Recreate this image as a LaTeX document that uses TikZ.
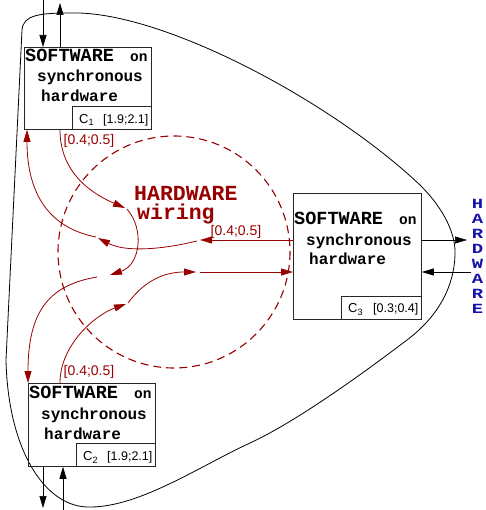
\documentclass[tikz,border=0pt]{standalone}
\usepackage{fontspec}
\setmainfont{Liberation Sans}
\newfontfamily\cour{Liberation Mono}
\usetikzlibrary{arrows.meta}
\definecolor{wire}{RGB}{153,0,0}
\definecolor{hwblue}{RGB}{20,20,170}
\newcommand\wideletter[1]{\scalebox{1.35}[1]{#1}}
\tikzset{
  box/.style={draw=black!85, line width=0.8pt, inner sep=0pt, anchor=north west},
  lblbox/.style={draw=black!85, line width=0.8pt, inner sep=0pt, anchor=south east, minimum width=79pt, minimum height=23pt},
  swbig/.style={anchor=base west, inner sep=0pt, font=\cour\bfseries\fontsize{18.5}{20}\selectfont},
  swon/.style={anchor=base west, inner sep=0pt, font=\cour\bfseries\fontsize{14.5}{16}\selectfont},
  swmid/.style={anchor=base west, inner sep=0pt, font=\cour\bfseries\fontsize{16}{18}\selectfont},
  clab/.style={anchor=base west, inner sep=0pt, font=\fontsize{13}{15}\selectfont},
  crange/.style={anchor=base west, inner sep=0pt, font=\fontsize{12.5}{15}\selectfont},
  rlab/.style={anchor=base, inner sep=0pt, text=wire, font=\fontsize{14}{16}\selectfont},
  blk/.style={line width=0.7pt, draw=black, -{Triangle[length=12pt,width=7pt]}},
  wirearrow/.style={line width=0.8pt, draw=wire, -{Triangle[length=12pt,width=7pt]}},
  outline/.style={line width=0.8pt, draw=black},
  hwtitle/.style={anchor=base west, inner sep=0pt, align=left, text=wire, font=\cour\bfseries\fontsize{21.5}{18.5}\selectfont},
}
\begin{document}
\begin{tikzpicture}[x=1pt,y=-1pt]
\useasboundingbox (0,0) rectangle (485,510);

% outer hardware outline
\draw[outline] (70,13) .. controls (160,10) and (330,100) .. (420,185)
  .. controls (445,210) and (456,235) .. (455,255)
  .. controls (454,285) and (440,315) .. (407,340)
  .. controls (374,365) and (300,420) .. (250,443)
  .. controls (200,466) and (140,507) .. (90,507)
  .. controls (45,508) and (8,450) .. (6,360)
  -- (22,30) .. controls (23,15) and (40,13) .. (70,13) -- cycle;

% dashed wiring circle
\draw[wire, line width=1.1pt, dash pattern=on 8pt off 5pt] (174,252) circle[radius=116];
\node[hwtitle] (hwt) at (134,219.5) {HARDWARE\\\hspace*{3pt}wiring};

% component C1
\node[box, minimum width=127pt, minimum height=82pt] (c1) at (24,47) {};
\node[lblbox] (c1l) at (c1.south east) {};
\node[swbig] (c1s) at ([xshift=1pt,yshift=-15pt]c1.north west) {SOFTWARE};
\node[swon] (c1o) at ([xshift=106pt,yshift=-15pt]c1.north west) {on};
\node[swmid] (c1y) at ([xshift=13pt,yshift=-35pt]c1.north west) {synchronous};
\node[swmid] (c1h) at ([xshift=17pt,yshift=-55pt]c1.north west) {hardware};
\node[clab] (c1n) at ([xshift=7pt,yshift=6pt]c1l.south west) {C\textsubscript{1}};
\node[crange] (c1r) at ([xshift=31pt,yshift=6pt]c1l.south west) {[1.9;2.1]};

% component C2
\node[box, minimum width=127pt, minimum height=83pt] (c2) at (28,383) {};
\node[lblbox] (c2l) at (c2.south east) {};
\node[swbig] (c2s) at ([xshift=1pt,yshift=-15pt]c2.north west) {SOFTWARE};
\node[swon] (c2o) at ([xshift=106pt,yshift=-15pt]c2.north west) {on};
\node[swmid] (c2y) at ([xshift=13pt,yshift=-36pt]c2.north west) {synchronous};
\node[swmid] (c2h) at ([xshift=16pt,yshift=-56pt]c2.north west) {hardware};
\node[clab] (c2n) at ([xshift=7pt,yshift=6pt]c2l.south west) {C\textsubscript{2}};
\node[crange] (c2r) at ([xshift=31pt,yshift=6pt]c2l.south west) {[1.9;2.1]};

% component C3
\node[box, minimum width=128pt, minimum height=126pt] (c3) at (293,193) {};
\node[lblbox, minimum width=80pt] (c3l) at (c3.south east) {};
\node[swbig] (c3s) at ([xshift=1pt,yshift=-32pt]c3.north west) {SOFTWARE};
\node[swon] (c3o) at ([xshift=106pt,yshift=-32pt]c3.north west) {on};
\node[swmid] (c3y) at ([xshift=13pt,yshift=-52pt]c3.north west) {synchronous};
\node[swmid] (c3h) at ([xshift=16pt,yshift=-71pt]c3.north west) {hardware};
\node[clab] (c3n) at ([xshift=7pt,yshift=7pt]c3l.south west) {C\textsubscript{3}};
\node[crange] (c3r) at ([xshift=32pt,yshift=7pt]c3l.south west) {[0.3;0.4]};

% blue HARDWARE label
\node[inner sep=0pt, align=center, text=hwblue, font=\cour\bfseries\fontsize{14}{15}\selectfont] (hw) at (477.5,256.5)
  {\wideletter{H}\\\wideletter{A}\\\wideletter{R}\\\wideletter{D}\\\wideletter{W}\\\wideletter{A}\\\wideletter{R}\\\wideletter{E}};

% black external connectors
\coordinate (t1) at (43,0);
\coordinate (t2) at (60,3);
\coordinate (b1) at (43,508);
\coordinate (b2) at (63,510);
\coordinate (r1) at (467,240);
\coordinate (r2) at (471,272);
\draw[blk] (t1) -- (t1 |- c1.north);
\draw[blk] (t2 |- c1.north) -- (t2);
\draw[blk] (b1 |- c2.south) -- (b1);
\draw[blk] (b2) -- (b2 |- c2.south);
\draw[blk] (r1 -| c3.east) -- (r1);
\draw[blk] (r2) -- (r2 -| c3.east);

% wiring points
\coordinate (w1) at (125,208);
\coordinate (w1b) at (127,209);
\coordinate (w2) at (110,275);
\coordinate (w2b) at (97,277);
\coordinate (w3) at (200,240);
\coordinate (w3b) at (197,241);
\coordinate (w4) at (98,238);
\coordinate (w4b) at (96,237);
\coordinate (w5) at (126,304);
\coordinate (w5b) at (128,303);
\coordinate (w6) at (196,272);
\coordinate (w6b) at (200,272);

% C1 -> C2
\draw[wirearrow] ([xshift=36pt]c1.south west) .. controls (60,175) and (95,195) .. (w1);
\draw[wirearrow] (w1b) .. controls (145,230) and (140,265) .. (w2);
\draw[wirearrow] (w2b) .. controls (50,285) and (28,310) .. (c2.north west);
\node[rlab] (l1) at (89,145) {[0.4;0.5]};

% C3 -> C1
\draw[wirearrow] (w3 -| c3.west) -- (w3);
\draw[wirearrow] (w3b) .. controls (160,250) and (125,252) .. (w4);
\draw[wirearrow] (w4b) .. controls (50,228) and (27,195) .. ([xshift=3pt]c1.south west);
\node[rlab] (l3) at (236,236) {[0.4;0.5]};

% C2 -> C3
\draw[wirearrow] ([xshift=32pt]c2.north west) .. controls (60,345) and (95,315) .. (w5);
\draw[wirearrow] (w5b) .. controls (145,280) and (165,272) .. (w6);
\draw[wirearrow] (w6b) -- (w6b -| c3.west);
\node[rlab] (l2) at (89,375) {[0.4;0.5]};
\end{tikzpicture}
\end{document}
